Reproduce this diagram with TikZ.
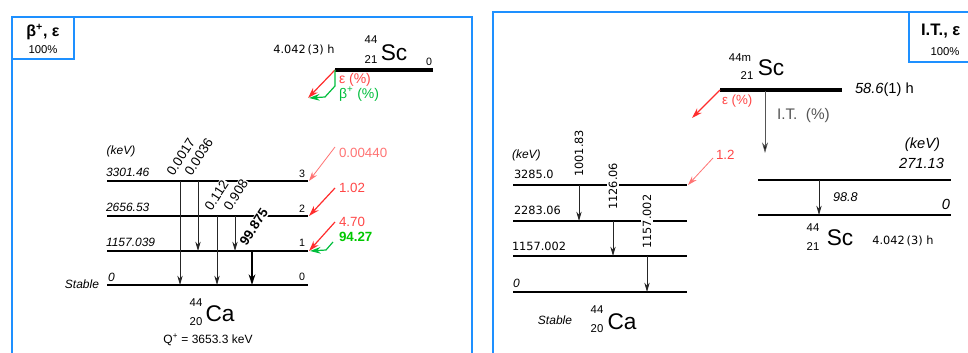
\documentclass[tikz,border=0pt]{standalone}
\usepackage{fontspec}
\setmainfont{Liberation Sans}
\newfontfamily\dvs{DejaVu Sans}
\usetikzlibrary{arrows.meta}
\definecolor{frameblue}{RGB}{30,144,255}
\definecolor{fred}{RGB}{255,45,45}
\definecolor{lred}{RGB}{255,115,115}
\definecolor{tred}{RGB}{255,70,70}
\definecolor{fgreen}{RGB}{0,190,60}
\definecolor{bgreen}{RGB}{0,200,0}
\definecolor{itgray}{RGB}{85,85,85}
\newcommand\fsz[1]{\fontsize{#1}{#1}\selectfont}
\tikzset{
  frame/.style={draw=frameblue, line width=1.6pt},
  lvthick/.style={line width=1.7pt},
  lvthin/.style={line width=0.9pt},
  parent/.style={line width=2.3pt},
  gam/.style={draw=black!85, line width=0.6pt, -{Stealth[length=7pt,width=4pt]}},
  gamthick/.style={draw=black, line width=1.4pt, -{Stealth[length=8pt,width=5pt]}},
  feed/.style={draw=fred, line width=0.9pt, -{Stealth[length=8pt,width=5pt]}},
  lfeed/.style={draw=lred, line width=0.6pt, -{Stealth[length=7pt,width=4.5pt]}},
  gfeed/.style={draw=fgreen, line width=0.9pt, -{Stealth[length=8pt,width=5pt]}},
  itarrow/.style={draw=itgray, line width=0.6pt, -{Stealth[length=8pt,width=4.5pt,fill=black]}},
  rotl/.style={rotate=57, fill=white, inner sep=0.8pt, font=\fsz{10}},
  rotr/.style={rotate=90, fill=white, inner sep=1pt, font=\dvs\fsz{8.5}, anchor=west},
  lvlab/.style={font=\itshape\fsz{9}, anchor=west},
  lvlabr/.style={font=\dvs\fsz{8.5}, anchor=west},
  idx/.style={font=\fsz{8}},
  nuc/.style={font=\fsz{17}},
  nucn/.style={font=\fsz{8.5}},
}
\begin{document}
\begin{tikzpicture}[x=0.75pt,y=-0.75pt, every node/.style={inner sep=0pt, outer sep=0pt}]
\useasboundingbox (0,0) rectangle (968,353);
\clip (0,0) rectangle (968,353);

% ---------- frames ----------
\draw[frame] (12,358) -- (12,17) -- (472,17) -- (472,358);
\draw[frame] (12,59) -- (74,59) -- (74,17);
\draw[frame] (493,358) -- (493,12) -- (975,12);
\draw[frame] (909,12) -- (909,62) -- (975,62);
\node[font=\bfseries\fsz{12}] (hl) at (43,32) {β\textsuperscript{+}, ε};
\node[font=\fsz{8.5}] (hlp) at (43,50) {100\%};
\node[font=\bfseries\fsz{12.5}, anchor=west] (hr) at (921,31) {I.T., ε};
\node[font=\fsz{8.5}] (hrp) at (945,52) {100\%};

% ---------- left: parent 44Sc ----------
\coordinate (pL) at (335,70);
\coordinate (pR) at (433,70);
\draw[parent] (pL) -- (pR);
\node[nuc] (sc1) at (394,53) {Sc};
\node[nucn] (sc1a) at (371,40) {44};
\node[nucn] (sc1z) at (371,60) {21};
\node[idx] (sc1e) at (429,62) {0};
\node[font=\dvs\fsz{8.5}] (sc1t) at (304,50) {4.042\,(3) h};
\coordinate (eL) at (308,98);
\draw[feed] (pL) -- (eL);
\coordinate (g1) at (335,86);
\coordinate (g2) at (325,97);
\coordinate (bL) at (309,98);
\draw[gfeed] (pL) -- (g1) -- (g2) -- (bL);
\node[font=\fsz{10.5}, text=tred, anchor=west] (epsL) at (339,80) {ε (\%)};
\node[font=\fsz{10.5}, text=fgreen, anchor=west] (betL) at (339,94) {β\textsuperscript{+} (\%)};

% ---------- left: daughter 44Ca levels ----------
\foreach \y in {181,216,251,285} {
  \draw[lvthick] (107,\y) -- (162,\y);
  \draw[lvthin] (162,\y) -- (287,\y);
  \draw[lvthick] (287,\y) -- (308,\y);
}
\node[font=\itshape\fsz{9}] (kevL) at (121,151) {(keV)};
\node[lvlab] (lv3) at (106,172) {3301.46};
\node[lvlab] (lv2) at (106,207) {2656.53};
\node[lvlab] (lv1) at (106,242) {1157.039};
\node[lvlab] (lv0) at (108,277) {0};
\node[font=\itshape\fsz{9}, anchor=east] (stL) at (99,284) {Stable};
\node[idx] (i3) at (302,174) {3};
\node[idx] (i2) at (302,209) {2};
\node[idx] (i1) at (302,243) {1};
\node[idx] (i0) at (302,277) {0};

\node[rotl, anchor=south west] (r1) at (174,178) {0.0017};
\node[rotl, anchor=south west] (r2) at (192,178) {0.0036};
\node[rotl, anchor=south west] (r3) at (212,213) {0.112};
\node[rotl, anchor=south west] (r4) at (231,213) {0.908};
\node[rotl, anchor=south west, font=\bfseries\fsz{10}] (r5) at (247,248) {99.875};

\coordinate (a1) at (180,181); \coordinate (b1) at (180,285);
\coordinate (a2) at (198,181); \coordinate (b2) at (198,251);
\coordinate (a3) at (217,216); \coordinate (b3) at (217,285);
\coordinate (a4) at (235,216); \coordinate (b4) at (235,251);
\coordinate (a5) at (252,251); \coordinate (b5) at (252,285);
\draw[gam] (a1) -- (b1);
\draw[gam] (a2) -- (b2);
\draw[gam] (a3) -- (b3);
\draw[gam] (a4) -- (b4);
\draw[gamthick] (a5) -- (b5);

% feeding arrows
\node[font=\fsz{10}, text=lred, anchor=west] (f3) at (339,153) {0.00440};
\node[font=\fsz{10}, text=tred, anchor=west] (f2) at (339,188) {1.02};
\node[font=\fsz{10}, text=tred, anchor=west] (f1) at (339,222) {4.70};
\node[font=\bfseries\fsz{10}, text=bgreen, anchor=west] (f1g) at (339,237) {94.27};
\coordinate (s3) at (335,147); \coordinate (e3) at (309,181);
\coordinate (s2) at (335,188); \coordinate (e2) at (309,216);
\coordinate (s1) at (335,222); \coordinate (e1) at (309,251);
\coordinate (sg) at (333,242); \coordinate (mg) at (326,250); \coordinate (eg) at (310,251);
\draw[lfeed] (s3) -- (e3);
\draw[feed] (s2) -- (e2);
\draw[feed] (s1) -- (e1);
\draw[gfeed] (sg) -- (mg) -- (eg);

\node[nuc] (ca1) at (220,314) {Ca};
\node[nucn] (ca1a) at (196,303) {44};
\node[nucn] (ca1z) at (196,322) {20};
\node[font=\fsz{9}] (qv) at (208,340) {Q\textsuperscript{+} = 3653.3 keV};

% ---------- right: parent 44mSc ----------
\coordinate (mL) at (720,90);
\coordinate (mR) at (842,90);
\draw[parent] (mL) -- (mR);
\node[nuc] (sc2) at (771,68) {Sc};
\node[nucn] (sc2a) at (740,58) {44m};
\node[nucn] (sc2z) at (747,76) {21};
\node[font=\fsz{11}, anchor=west] (sc2t) at (855,90) {\textit{58.6}(1) h};
\coordinate (eR) at (692,118);
\draw[feed] (mL) -- (eR);
\node[font=\fsz{10}, text=tred, anchor=west] (epsR) at (722,101) {ε (\%)};
\coordinate (itA) at (765,91);
\coordinate (itB) at (765,153);
\draw[itarrow] (itA) -- (itB);
\node[font=\fsz{11.5}, text=itgray, anchor=west] (itl) at (777,116) {I.T.\ \ (\%)};

% ---------- right: 44Sc ground ----------
\foreach \y in {180,215} {
  \draw[lvthick] (758,\y) -- (783,\y);
  \draw[lvthin] (783,\y) -- (887,\y);
  \draw[lvthick] (887,\y) -- (951,\y);
}
\node[font=\itshape\fsz{11}, anchor=east] (kevR) at (940,145) {(keV)};
\node[font=\itshape\fsz{11}, anchor=east] (l271) at (944,163) {271.13};
\node[font=\itshape\fsz{11}, anchor=east] (l0R) at (950,204) {0};
\coordinate (ga) at (819,180);
\coordinate (gb) at (819,215);
\draw[gam] (ga) -- (gb);
\node[font=\itshape\fsz{9.5}, anchor=west] (g988) at (833,197) {98.8};
\node[nuc] (sc3) at (840,238) {Sc};
\node[nucn] (sc3a) at (813,228) {44};
\node[nucn] (sc3z) at (813,247) {21};
\node[font=\dvs\fsz{8.5}] (sc3t) at (903,241) {4.042\,(3) h};

% ---------- right: 44Ca levels ----------
\foreach \y in {185,221,256,292} {
  \draw[lvthick] (513,\y) -- (568,\y);
  \draw[lvthin] (568,\y) -- (666,\y);
  \draw[lvthick] (666,\y) -- (687,\y);
}
\node[font=\itshape\fsz{9}, anchor=west] (kevC) at (512,155) {(keV)};
\node[lvlabr] (c3) at (514,174) {3285.0};
\node[lvlabr] (c2) at (514,210) {2283.06};
\node[lvlabr] (c1) at (512,246) {1157.002};
\node[font=\itshape\fsz{9}, anchor=west] (c0) at (513,283) {0};
\node[font=\itshape\fsz{9}] (stR) at (555,320) {Stable};
\node[nuc] (ca2) at (622,322) {Ca};
\node[nucn] (ca2a) at (597,310) {44};
\node[nucn] (ca2z) at (597,329) {20};

\node[rotr] (q1) at (579,178) {1001.83};
\node[rotr] (q2) at (613,211) {1126.06};
\node[rotr] (q3) at (647,250) {1157.002};
\coordinate (u1) at (579,185); \coordinate (v1) at (579,221);
\coordinate (u2) at (613,221); \coordinate (v2) at (613,256);
\coordinate (u3) at (647,256); \coordinate (v3) at (647,292);
\draw[gam] (u1) -- (v1);
\draw[gam] (u2) -- (v2);
\draw[gam] (u3) -- (v3);

\node[font=\fsz{10}, text=tred, anchor=west] (f12) at (716,155) {1.2};
\coordinate (s12) at (713,158);
\coordinate (e12) at (688,185);
\draw[lfeed] (s12) -- (e12);
\end{tikzpicture}
\end{document}
